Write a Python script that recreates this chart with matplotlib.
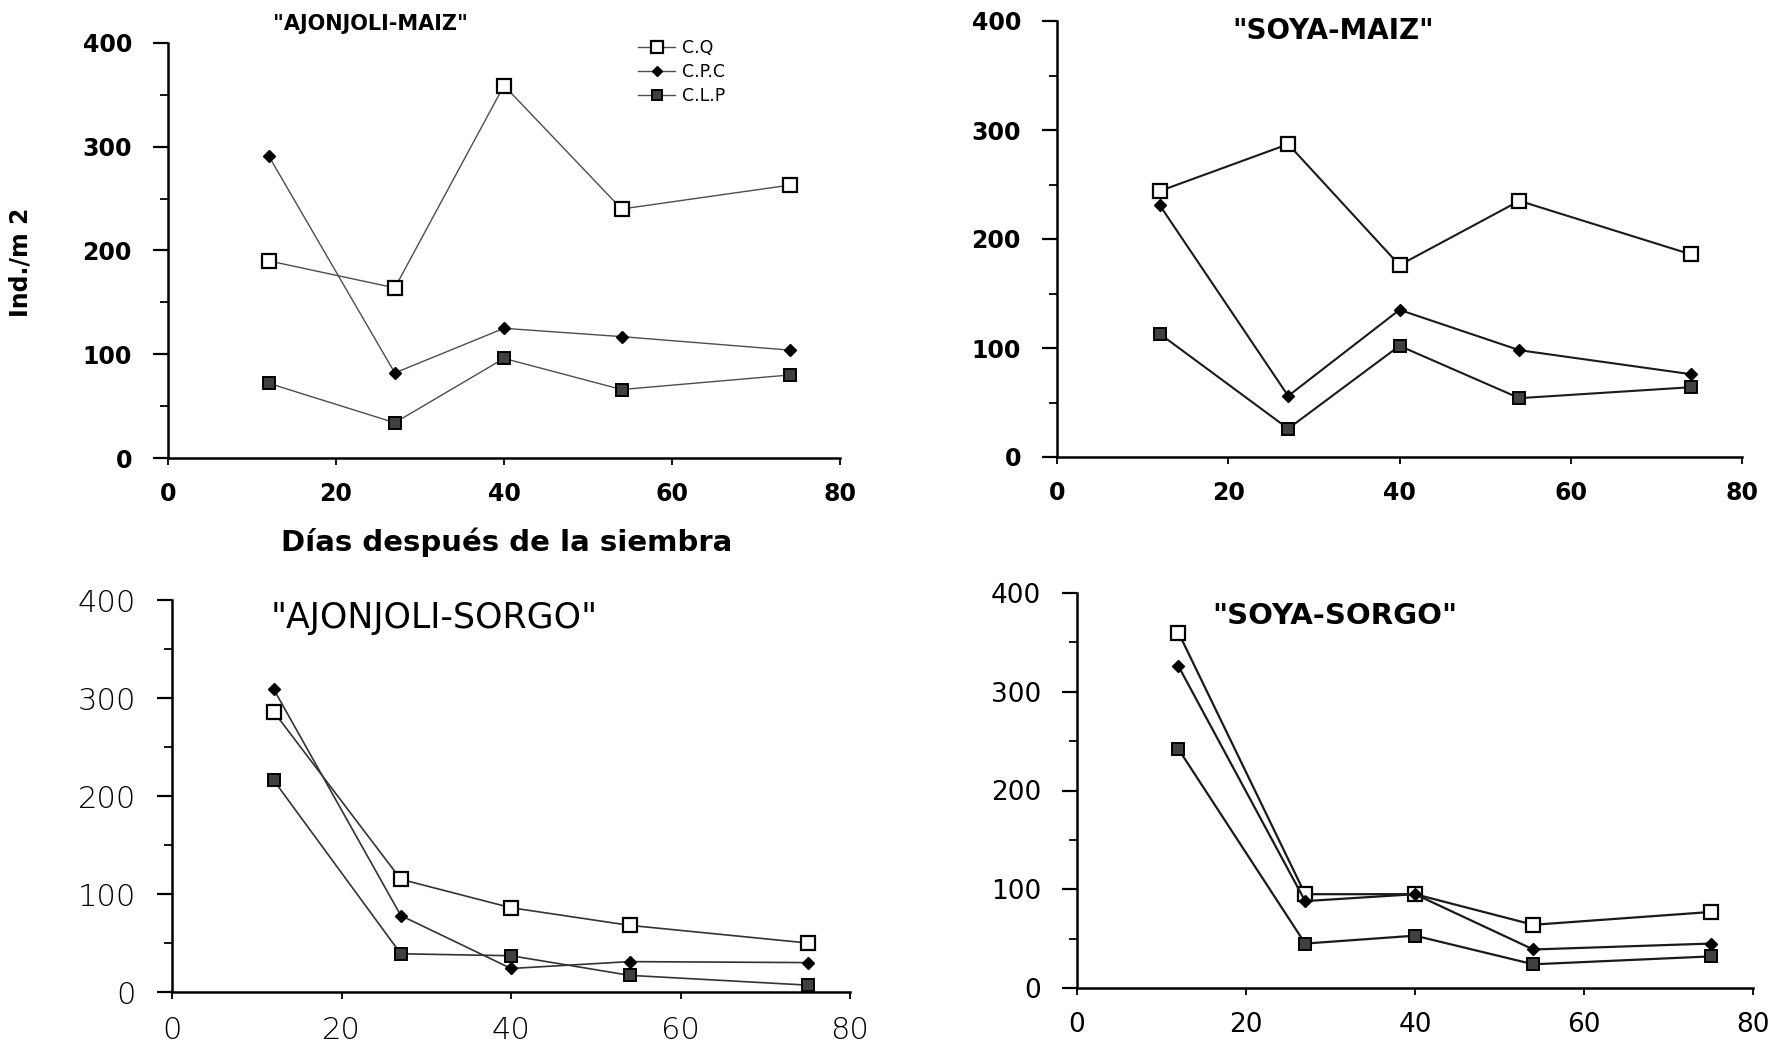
import matplotlib.pyplot as plt
from matplotlib.ticker import MultipleLocator

# Datos (individuos por m2)
dias_am = [12, 27, 40, 54, 74]
am_cq = [190, 164, 359, 240, 263]
am_cpc = [291, 82, 125, 117, 104]
am_clp = [72, 34, 96, 66, 80]

dias_sm = [12, 27, 40, 54, 74]
sm_cq = [244, 287, 176, 235, 186]
sm_cpc = [231, 56, 135, 98, 76]
sm_clp = [113, 26, 102, 54, 64]

dias_as = [12, 27, 40, 54, 75]
as_cq = [286, 115, 86, 68, 50]
as_cpc = [309, 78, 24, 31, 30]
as_clp = [216, 39, 37, 17, 7]

dias_ss = [12, 27, 40, 54, 75]
ss_cq = [360, 95, 95, 64, 77]
ss_cpc = [326, 88, 95, 39, 45]
ss_clp = [242, 45, 53, 24, 32]

etiquetas = ["C.Q", "C.P.C", "C.L.P"]
titulos = ['"AJONJOLI-MAIZ"', '"SOYA-MAIZ"', '"AJONJOLI-SORGO"', '"SOYA-SORGO"']

W, H = 1777, 1043
fig = plt.figure(figsize=(W / 100, H / 100), dpi=100, facecolor='white')


def caja(x0, x1, ytop, ybot):
    # convierte pixeles de la imagen a fracciones de la figura
    return [x0 / W, 1 - ybot / H, (x1 - x0) / W, (ybot - ytop) / H]


paneles = [
    (caja(168, 840, 43, 458), dias_am, am_cq, am_cpc, am_clp, 'bold', 17, '0.3', 1.0),
    (caja(1057, 1742, 21, 457), dias_sm, sm_cq, sm_cpc, sm_clp, 'bold', 17, '0.1', 1.5),
    (caja(172, 850, 600, 992), dias_as, as_cq, as_cpc, as_clp, 'light', 22, '0.2', 1.2),
    (caja(1077, 1753, 593, 988), dias_ss, ss_cq, ss_cpc, ss_clp, 'normal', 19, '0.1', 1.6),
]

ejes = []
for rect, dias, cq, cpc, clp, peso, tam, col, lw in paneles:
    ax = fig.add_axes(rect)
    ax.plot(dias, cq, color=col, lw=lw, marker='s', ms=10, mfc='white', mec='black', mew=1.6, label=etiquetas[0])
    ax.plot(dias, cpc, color=col, lw=lw, marker='D', ms=6, mfc='black', mec='black', label=etiquetas[1])
    ax.plot(dias, clp, color=col, lw=lw, marker='s', ms=9, mfc='0.25', mec='black', mew=1.4, label=etiquetas[2])

    ax.set_xlim(0, 80)
    ax.set_ylim(0, 400)
    ax.xaxis.set_major_locator(MultipleLocator(20))
    ax.yaxis.set_major_locator(MultipleLocator(100))
    ax.yaxis.set_minor_locator(MultipleLocator(50))
    ax.xaxis.set_minor_locator(MultipleLocator(10))

    for lado in ['top', 'right']:
        ax.spines[lado].set_visible(False)
    for lado in ['left', 'bottom']:
        ax.spines[lado].set_linewidth(1.8)

    ax.tick_params(axis='y', which='major', length=11, width=1.6, pad=15, labelsize=tam)
    ax.tick_params(axis='y', which='minor', length=6, width=1.3)
    ax.tick_params(axis='x', which='major', length=5, width=1.3, pad=12, labelsize=tam)
    ax.tick_params(axis='x', which='minor', length=0)
    for lbl in ax.get_xticklabels() + ax.get_yticklabels():
        lbl.set_fontweight(peso)
    ejes.append(ax)

# Leyenda solo en el primer panel
ejes[0].legend(loc='upper left', bbox_to_anchor=(0.7, 1.01), frameon=False,
               fontsize=12.5, handlelength=2.1, handletextpad=0.4, labelspacing=0.35,
               borderpad=0, borderaxespad=0, markerscale=0.8)

# Titulos de cada asociacion
fig.text(370 / W, 1 - 24 / H, titulos[0], ha='center', va='center', fontsize=15, fontweight='bold')
fig.text(1333 / W, 1 - 31 / H, titulos[1], ha='center', va='center', fontsize=20, fontweight='bold')
fig.text(434 / W, 1 - 618 / H, titulos[2], ha='center', va='center', fontsize=25)
fig.text(1335 / W, 1 - 616 / H, titulos[3], ha='center', va='center', fontsize=21, fontweight='bold')

# Etiquetas de los ejes
fig.text(21 / W, 1 - 262 / H, "Ind./m 2", rotation=90, ha='center', va='center', fontsize=17, fontweight='bold')
fig.text(507 / W, 1 - 542 / H, "Días después de la siembra", ha='center', va='center', fontsize=21, fontweight='bold')

plt.savefig("out.png", dpi=100, facecolor='white')
